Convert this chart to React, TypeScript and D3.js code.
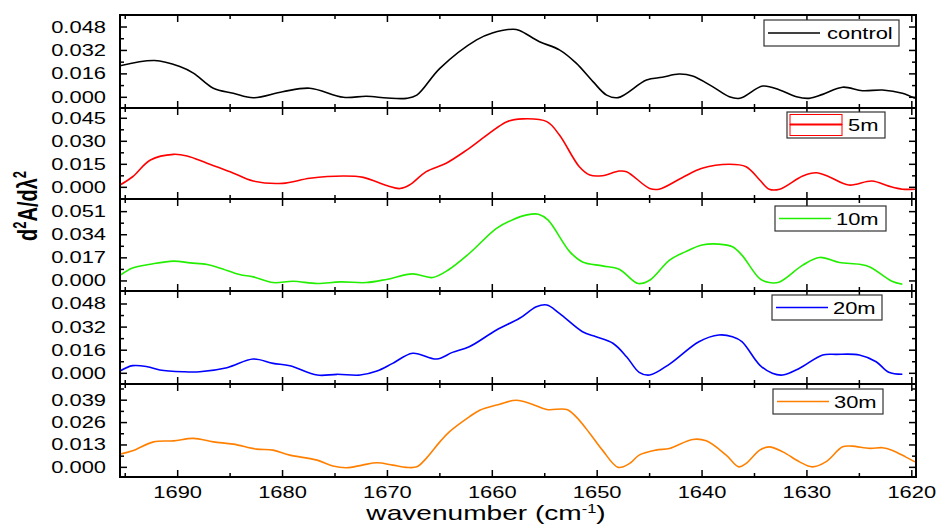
import React from "react";
import * as d3 from "d3";

// ---------- data ----------
const controlX = [1695.5,1692.2,1689.8,1688.5,1686.6,1684.7,1682.8,1680.0,1677.4,1674.2,1672.0,1670.0,1668.2,1667.2,1665.0,1661.5,1660.0,1658.0,1657.4,1655.5,1653.6,1652.0,1650.4,1649.1,1648.0,1645.3,1643.8,1642.2,1640.9,1639.0,1637.4,1636.4,1634.2,1632.6,1631.0,1629.8,1628.5,1626.6,1624.7,1622.8,1620.9,1619.7];
const controlY = [0.0215,0.0251,0.021,0.0165,0.0062,0.0028,-0.0003,0.0038,0.0062,0.0,0.0007,-0.0005,-0.0007,0.0015,0.0198,0.0392,0.0439,0.0465,0.0456,0.038,0.0324,0.0233,0.0107,0.0015,-0.0002,0.0118,0.0137,0.0159,0.0146,0.0073,0.0004,-0.0007,0.0077,0.005,0.0004,-0.0007,0.002,0.0069,0.0045,0.005,0.0028,-0.0007];

const m5X = [1695.5,1694.3,1692.6,1690.4,1689.1,1687.2,1685.0,1682.8,1680.0,1677.4,1674.2,1672.3,1670.0,1668.8,1667.9,1666.3,1664.4,1662.2,1658.6,1657.1,1654.8,1653.6,1651.7,1650.7,1649.5,1647.9,1647.2,1645.0,1644.1,1641.9,1640.0,1637.4,1635.8,1634.5,1633.6,1632.6,1630.4,1629.1,1627.9,1626.0,1623.8,1622.2,1620.9,1619.7];
const m5Y = [0.0015,0.0069,0.0178,0.0215,0.0204,0.0157,0.0102,0.0041,0.0026,0.0059,0.0074,0.0065,0.001,-0.0008,0.0015,0.0102,0.0157,0.0254,0.0428,0.0446,0.0428,0.0341,0.0134,0.008,0.0076,0.0106,0.0102,-0.0007,-0.0012,0.0063,0.0124,0.015,0.0134,0.0048,-0.0012,-0.0012,0.0074,0.0095,0.0069,0.0015,0.0041,0.0008,-0.0012,-0.0012];

const m10X = [1695.5,1694.3,1692.6,1690.4,1688.8,1687.2,1686.0,1684.1,1682.8,1680.9,1679.0,1676.7,1674.5,1672.0,1670.0,1667.6,1665.7,1664.1,1662.2,1659.6,1658.1,1656.7,1655.6,1654.7,1652.6,1651.4,1649.5,1647.9,1646.1,1645.0,1643.1,1641.6,1640.0,1638.4,1637.1,1636.2,1634.5,1633.6,1632.6,1630.4,1628.8,1626.9,1625.0,1624.0,1621.9,1620.9];
const m10Y = [0.0042,0.0096,0.0123,0.0146,0.0133,0.0121,0.0096,0.0047,0.003,-0.0012,-0.0002,-0.0019,-0.0007,-0.0012,0.0013,0.0052,0.0025,0.0086,0.0202,0.0387,0.0449,0.0486,0.0491,0.0449,0.0214,0.014,0.0111,0.0086,-0.0019,0.0005,0.0153,0.0214,0.0264,0.0271,0.0251,0.019,0.0017,-0.0012,-0.0007,0.0116,0.0173,0.0136,0.0123,0.0103,-0.0002,-0.0024];

const m20X = [1695.5,1694.3,1692.9,1691.7,1689.5,1687.9,1685.3,1682.8,1680.9,1679.3,1676.7,1674.8,1672.6,1671.0,1669.5,1667.6,1665.3,1663.8,1662.2,1659.6,1657.4,1655.8,1654.8,1653.6,1651.4,1650.1,1648.5,1647.2,1646.0,1645.0,1643.1,1640.3,1638.4,1637.1,1636.2,1634.5,1633.3,1632.3,1630.7,1628.5,1627.2,1625.0,1623.4,1622.2,1620.9];
const m20Y = [0.0016,0.0053,0.0046,0.0023,0.0011,0.0011,0.0039,0.0099,0.0069,0.0053,-0.0012,-0.0007,-0.0012,0.0016,0.0069,0.0139,0.0099,0.0145,0.0184,0.03,0.0381,0.0461,0.0473,0.0415,0.0288,0.0253,0.0208,0.0115,0.0007,-0.0012,0.0064,0.0219,0.0265,0.0253,0.0219,0.0057,0.0,-0.0012,0.0035,0.0127,0.0131,0.0127,0.008,0.0007,-0.0007];

const m30X = [1695.5,1694.3,1692.3,1690.4,1688.5,1686.6,1684.7,1682.5,1680.9,1679.3,1676.7,1675.2,1673.9,1672.4,1671.0,1669.5,1668.2,1667.2,1666.3,1665.0,1664.1,1662.2,1661.2,1659.3,1657.7,1656.2,1654.8,1652.9,1652.0,1650.7,1649.5,1648.0,1646.9,1646.0,1644.4,1643.1,1640.9,1639.6,1637.7,1636.5,1635.8,1634.5,1633.6,1632.3,1630.7,1629.5,1628.2,1626.6,1625.7,1624.0,1622.8,1621.9,1620.6,1619.7];
const m30Y = [0.0077,0.0096,0.0148,0.0154,0.0168,0.0148,0.0135,0.0106,0.01,0.0071,0.0042,0.0008,-0.0002,0.0013,0.0027,0.0013,0.0,0.0003,0.0052,0.0148,0.0206,0.0293,0.0332,0.0367,0.039,0.0367,0.0336,0.0336,0.0293,0.0197,0.01,0.0,0.0023,0.0071,0.01,0.011,0.0162,0.0154,0.0071,0.0003,0.0023,0.01,0.0119,0.009,0.0032,0.0003,0.0032,0.0119,0.0123,0.011,0.0114,0.01,0.0061,0.0032];

const seriesNames = ["control", "5m", "10m", "20m", "30m"];
const seriesColors = ["#000000", "#ff0000", "#22ee00", "#0000ff", "#ff8000"];
const seriesXs = [controlX, m5X, m10X, m20X, m30X];
const seriesYs = [controlY, m5Y, m10Y, m20Y, m30Y];
const yDomains: [number, number][] = [
  [-0.0073, 0.0562],
  [-0.0076, 0.0517],
  [-0.0074, 0.0603],
  [-0.0074, 0.057],
  [-0.0056, 0.0484],
];
const yStepValues = [0.016, 0.015, 0.017, 0.016, 0.013];
const xTickValues = [1690, 1680, 1670, 1660, 1650, 1640, 1630, 1620];
const xDomain: [number, number] = [1695.5, 1619.6];

// ---------- layout ----------
const W = 940, H = 524;
const left = 120, right = 916;
const panelEdges = [15, 108, 199, 291, 384, 477];
const SX = 1.37; // horizontal stretch of the original text
const FONT = "'Liberation Sans', Arial, Helvetica, sans-serif";

const legendBoxes = [
  { x: 764, y: 20, w: 135, h: 26 },
  { x: 787, y: 112, w: 98, h: 26 },
  { x: 775, y: 206, w: 111, h: 25 },
  { x: 772, y: 295, w: 110, h: 25 },
  { x: 773, y: 389, w: 110, h: 25 },
];

function SText({ x, y, anchor = "start", size = 16, weight = "normal", children, rotate = 0 }: any) {
  return (
    <text
      transform={`translate(${x},${y}) scale(${SX},1)${rotate ? ` rotate(${rotate})` : ""}`}
      textAnchor={anchor}
      fontSize={size}
      fontWeight={weight}
      fontFamily={FONT}
      fill="#000"
    >
      {children}
    </text>
  );
}

export default function App() {
  const x = d3.scaleLinear().domain(xDomain).range([left, right]);
  const minorX = d3.range(1695, 1619, -5);

  return (
    <svg width={W} height={H} style={{ position: "absolute", left: 0, top: 0, background: "#fff" }}>
      <rect x={0} y={0} width={W} height={H} fill="#fff" />
      {seriesNames.map((name, i) => {
        const top = panelEdges[i];
        const bottom = panelEdges[i + 1];
        const y = d3.scaleLinear().domain(yDomains[i]).range([bottom, top]);
        const step = yStepValues[i];
        const majors = d3.range(0, yDomains[i][1] + 1e-9, step).filter((v) => y(v) >= top + 2);
        const minors = d3
          .range(-step / 2, yDomains[i][1], step)
          .filter((v) => y(v) >= top + 2 && y(v) <= bottom - 2);
        const pts = seriesXs[i].map((wv, k) => [wv, seriesYs[i][k]] as [number, number]);
        const line = d3
          .line<[number, number]>()
          .x((d) => x(d[0]))
          .y((d) => y(d[1]))
          .curve(d3.curveCatmullRom.alpha(0.5));
        const lb = legendBoxes[i];
        const ly = lb.y + lb.h / 2;
        const col = seriesColors[i];
        return (
          <g key={name}>
            <defs>
              <clipPath id={`clip${i}`}>
                <rect x={left} y={top} width={right - left} height={bottom - top} />
              </clipPath>
            </defs>
            <path d={line(pts) || ""} fill="none" stroke={col} strokeWidth={1.6} clipPath={`url(#clip${i})`} />
            {/* frame */}
            <rect x={left} y={top} width={right - left} height={bottom - top} fill="none" stroke="#000" strokeWidth={2} />
            {/* x ticks top and bottom, inward */}
            {minorX.map((v) => {
              const major = v % 10 === 0;
              const len = major ? 7 : 4;
              return (
                <g key={`xt${v}`}>
                  <line x1={x(v)} x2={x(v)} y1={top} y2={top + len} stroke="#000" strokeWidth={1.5} />
                  <line x1={x(v)} x2={x(v)} y1={bottom} y2={bottom - len} stroke="#000" strokeWidth={1.5} />
                </g>
              );
            })}
            {/* y ticks left and right */}
            {majors.map((v) => (
              <g key={`ym${v}`}>
                <line x1={left} x2={left + 7} y1={y(v)} y2={y(v)} stroke="#000" strokeWidth={1.5} />
                <line x1={right} x2={right - 7} y1={y(v)} y2={y(v)} stroke="#000" strokeWidth={1.5} />
                <SText x={106} y={y(v) + 5.5} anchor="end" size={16}>
                  {d3.format(".3f")(v)}
                </SText>
              </g>
            ))}
            {minors.map((v) => (
              <g key={`yn${v}`}>
                <line x1={left} x2={left + 4} y1={y(v)} y2={y(v)} stroke="#000" strokeWidth={1.5} />
                <line x1={right} x2={right - 4} y1={y(v)} y2={y(v)} stroke="#000" strokeWidth={1.5} />
              </g>
            ))}
            {/* legend */}
            <rect x={lb.x} y={lb.y} width={lb.w} height={lb.h} fill="#fff" stroke="#333" strokeWidth={1.2} />
            {i === 1 ? (
              <g>
                <rect x={lb.x + 3} y={lb.y + 2.5} width={52} height={10} fill="#fff" stroke={col} strokeWidth={1} />
                <rect x={lb.x + 3} y={lb.y + 12.5} width={52} height={11} fill="#fff" stroke={col} strokeWidth={1} />
                <line x1={lb.x + 3} x2={lb.x + 55} y1={lb.y + 12.5} y2={lb.y + 12.5} stroke={col} strokeWidth={2} />
              </g>
            ) : (
              <line x1={lb.x + 4} x2={lb.x + 56} y1={ly} y2={ly} stroke={col} strokeWidth={1.6} />
            )}
            <SText x={i === 0 ? lb.x + 63 : lb.x + 61} y={ly + 6} size={16}>
              {name}
            </SText>
          </g>
        );
      })}
      {/* x tick labels */}
      {xTickValues.map((v) => (
        <SText key={`xl${v}`} x={x(v)} y={498} anchor="middle" size={16}>
          {String(v)}
        </SText>
      ))}
      {/* x axis title */}
      <text
        transform={`translate(486,520) scale(${SX},1)`}
        textAnchor="middle"
        fontSize={20.5}
        fontFamily={FONT}
        fill="#000"
      >
        wavenumber (cm
        <tspan fontSize={12} dy={-7.5}>-1</tspan>
        <tspan dy={7.5}>)</tspan>
      </text>
      {/* y axis title */}
      <text
        transform={`translate(37,206) scale(${SX},1) rotate(-90)`}
        textAnchor="middle"
        fontSize={20}
        fontWeight="bold"
        fontFamily={FONT}
        fill="#000"
      >
        d<tspan fontSize={13} dy={-8}>2</tspan>
        <tspan dy={8}>A/dλ</tspan>
        <tspan fontSize={13} dy={-8}>2</tspan>
      </text>
    </svg>
  );
}
